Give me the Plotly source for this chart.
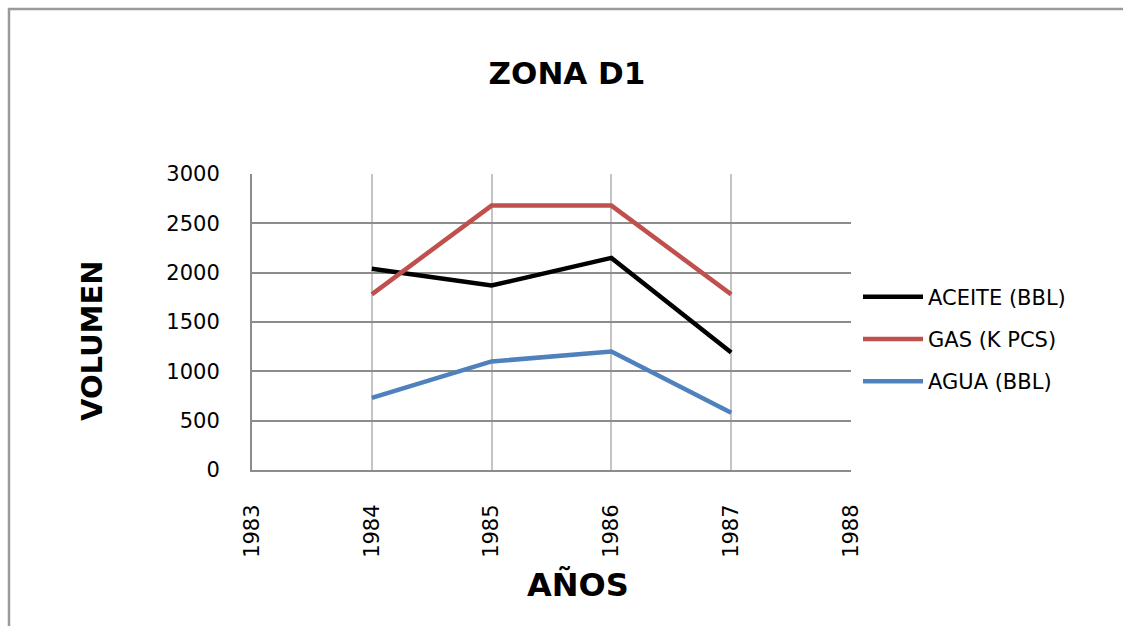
import plotly.graph_objects as go

# Production volumes per year, Zona D1
years = [1984, 1985, 1986, 1987]
aceite_bbl = [2040, 1870, 2150, 1190]
gas_kpcs = [1780, 2680, 2680, 1780]
agua_bbl = [730, 1100, 1200, 580]

series_names = ["ACEITE (BBL)", "GAS (K PCS)", "AGUA (BBL)"]
series_colors = ["#000000", "#C0504D", "#4F81BD"]

W, H = 1123, 626
L, R, T, B = 252, 272, 174, 156
pw, ph = W - L - R, H - T - B


def px_x(px):
    return (px - L) / pw


def px_y(py):
    return (H - B - py) / ph


FONT = "DejaVu Sans"

fig = go.Figure()
for i, (name, vals, col) in enumerate(zip(series_names, [aceite_bbl, gas_kpcs, agua_bbl], series_colors)):
    fig.add_trace(go.Scatter(
        x=years, y=vals, mode="lines", name=name,
        line=dict(color=col, width=4.5),
        legendgroup=f"g{i}",
    ))

fig.update_layout(
    width=W, height=H,
    margin=dict(l=L, r=R, t=T, b=B),
    paper_bgcolor="white", plot_bgcolor="white",
    font=dict(family=FONT, color="#000000"),
    title=dict(
        text="<b>ZONA D1</b>", x=567 / W, xref="container", xanchor="center",
        y=1 - 73 / H, yref="container", yanchor="middle",
        font=dict(family=FONT, size=31, color="#000000"),
    ),
    showlegend=True,
    legend=dict(
        x=px_x(858), xanchor="left", y=px_y(339), yanchor="middle",
        font=dict(family=FONT, size=21, color="#000000"),
        traceorder="grouped", tracegroupgap=12,
        itemwidth=60, bgcolor="rgba(0,0,0,0)",
    ),
    xaxis=dict(
        range=[1983, 1988], dtick=1, tick0=1983,
        tickangle=-90, ticklabelstandoff=24,
        tickfont=dict(family=FONT, size=21, color="#000000"),
        showgrid=True, gridcolor="#c4c4c4", gridwidth=1.5,
        showline=True, linecolor="#8c8c8c", linewidth=2,
        zeroline=False, ticks="",
    ),
    yaxis=dict(
        range=[0, 3000], dtick=500,
        ticklabelstandoff=26,
        tickfont=dict(family=FONT, size=21, color="#000000"),
        showgrid=True, gridcolor="#8c8c8c", gridwidth=1.5,
        showline=True, linecolor="#8c8c8c", linewidth=2,
        zeroline=False, ticks="",
    ),
    annotations=[
        dict(text="<b>VOLUMEN</b>", x=px_x(92), y=px_y(341), xref="paper", yref="paper",
             showarrow=False, textangle=-90, xanchor="center", yanchor="middle",
             font=dict(family=FONT, size=29, color="#000000")),
        dict(text="<b>AÑOS</b>", x=px_x(578), y=px_y(585), xref="paper", yref="paper",
             showarrow=False, xanchor="center", yanchor="middle",
             font=dict(family=FONT, size=32, color="#000000")),
    ],
    shapes=[
        dict(type="rect", xref="paper", yref="paper",
             x0=px_x(9), x1=px_x(W + 20), y0=px_y(H + 20), y1=px_y(9),
             line=dict(color="#9a9a9a", width=2.5), fillcolor="rgba(0,0,0,0)", layer="below"),
    ],
)

fig.write_html("out.html")
